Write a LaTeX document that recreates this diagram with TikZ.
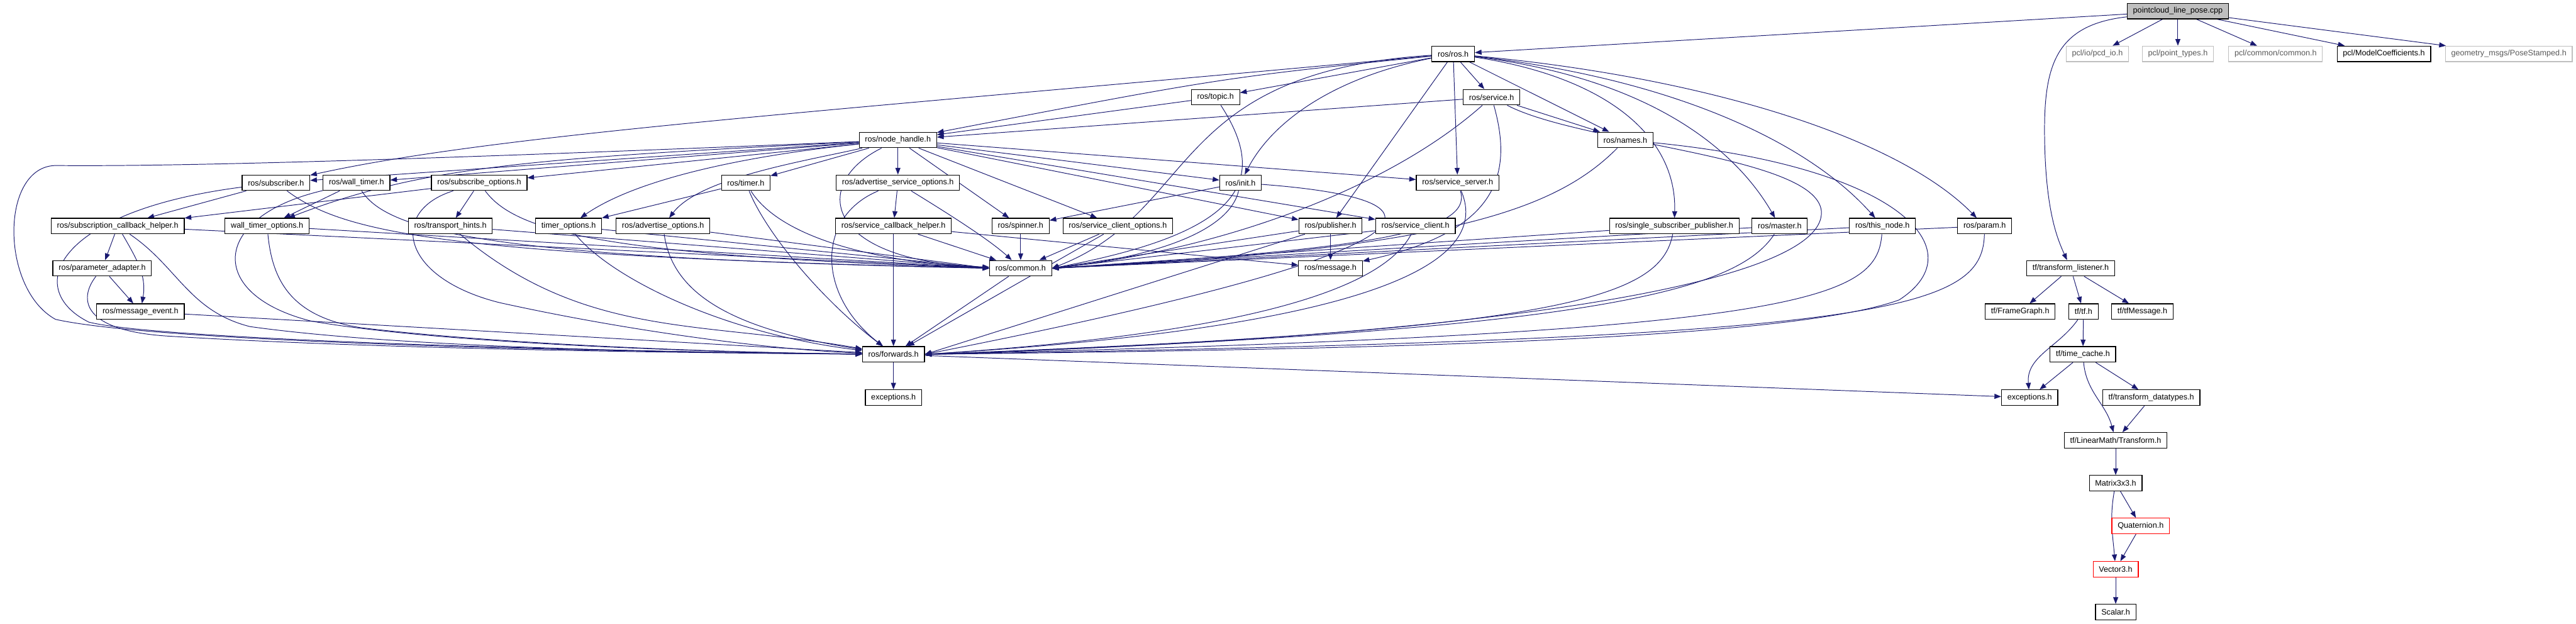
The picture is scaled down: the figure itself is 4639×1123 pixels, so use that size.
\documentclass[tikz,border=0pt]{standalone}
\usepackage{fontspec}
\setmainfont{Liberation Sans}
\usepackage{tikz}
\usetikzlibrary{arrows.meta}
\definecolor{edgeblue}{HTML}{191970}
\definecolor{rootgray}{HTML}{BFBFBF}
\pgfdeclarelayer{background}
\pgfsetlayers{background,main}

\begin{document}
\begin{tikzpicture}[x=1pt, y=-1pt,
    hdr/.style={rectangle, draw=black, fill=white, line width=1.3pt, inner xsep=10.5pt,
                inner ysep=0pt, minimum height=28pt, font=\fontsize{14.3}{16}\selectfont},
    roothdr/.style={hdr, fill=rootgray},
    exthdr/.style={hdr, draw=rootgray, text=black!65},
    cuthdr/.style={hdr, draw=red},
    dep/.style={->, >={Triangle[length=12pt,width=9pt]}, line width=1.1pt, color=edgeblue}
]
\useasboundingbox (0,0) rectangle (4639,1123);

% Source file and external headers
\node[roothdr] (root) at (3922,20) {pointcloud\_line\_pose.cpp};
\node[exthdr] (pcdio) at (3777,97) {pcl/io/pcd\_io.h};
\node[exthdr] (pointtypes) at (3922,97) {pcl/point\_types.h};
\node[exthdr] (pclcommon) at (4098,97) {pcl/common/common.h};
\node[hdr] (modelcoef) at (4293,97) {pcl/ModelCoefficients.h};
\node[exthdr] (posestamped) at (4518,97) {geometry\_msgs/PoseStamped.h};

% roscpp headers
\node[hdr] (ros) at (2617,97) {ros/ros.h};
\node[hdr] (topic) at (2189,175) {ros/topic.h};
\node[hdr] (service) at (2686,175) {ros/service.h};
\node[hdr] (nh) at (1617,252) {ros/node\_handle.h};
\node[hdr] (names) at (2927,252) {ros/names.h};
\node[hdr] (subscriber) at (497,329) {ros/subscriber.h};
\node[hdr] (walltimer) at (642,329) {ros/wall\_timer.h};
\node[hdr] (subopts) at (863,329) {ros/subscribe\_options.h};
\node[hdr] (timer) at (1343,329) {ros/timer.h};
\node[hdr] (advsrvopts) at (1617,329) {ros/advertise\_service\_options.h};
\node[hdr] (init) at (2234,329) {ros/init.h};
\node[hdr] (srvserver) at (2625,329) {ros/service\_server.h};
\node[hdr] (subcbhelper) at (212,407) {ros/subscription\_callback\_helper.h};
\node[hdr] (walltimeropts) at (481,407) {wall\_timer\_options.h};
\node[hdr] (transport) at (811,407) {ros/transport\_hints.h};
\node[hdr] (timeropts) at (1024,407) {timer\_options.h};
\node[hdr] (advopts) at (1194,407) {ros/advertise\_options.h};
\node[hdr] (srvcbhelper) at (1609,407) {ros/service\_callback\_helper.h};
\node[hdr] (spinner) at (1838,407) {ros/spinner.h};
\node[hdr] (srvclientopts) at (2013,407) {ros/service\_client\_options.h};
\node[hdr] (publisher) at (2396,407) {ros/publisher.h};
\node[hdr] (srvclient) at (2549,407) {ros/service\_client.h};
\node[hdr] (singlesub) at (3015,407) {ros/single\_subscriber\_publisher.h};
\node[hdr] (master) at (3205,407) {ros/master.h};
\node[hdr] (thisnode) at (3390,407) {ros/this\_node.h};
\node[hdr] (param) at (3574,407) {ros/param.h};
\node[hdr] (paramadapter) at (184,483) {ros/parameter\_adapter.h};
\node[hdr] (common) at (1838,483) {ros/common.h};
\node[hdr] (message) at (2396,483) {ros/message.h};
\node[hdr] (msgevent) at (253,561) {ros/message\_event.h};
\node[hdr] (forwards) at (1609,638) {ros/forwards.h};
\node[hdr] (exc) at (1609,716) {exceptions.h};

% tf headers
\node[hdr] (tflistener) at (3729,483) {tf/transform\_listener.h};
\node[hdr] (framegraph) at (3638,561) {tf/FrameGraph.h};
\node[hdr] (tftf) at (3752,561) {tf/tf.h};
\node[hdr] (tfmessage) at (3858,561) {tf/tfMessage.h};
\node[hdr] (timecache) at (3751,638) {tf/time\_cache.h};
\node[hdr] (tfexc) at (3655,716) {exceptions.h};
\node[hdr] (datatypes) at (3874,716) {tf/transform\_datatypes.h};
\node[hdr] (transform) at (3810,793) {tf/LinearMath/Transform.h};
\node[hdr] (matrix) at (3810,870) {Matrix3x3.h};
\node[cuthdr] (quaternion) at (3855,947) {Quaternion.h};
\node[cuthdr] (vector) at (3810,1025) {Vector3.h};
\node[hdr] (scalar) at (3810,1102) {Scalar.h};

\begin{pgfonlayer}{background}
% Source file includes
\draw[dep] (root) -- (ros);
\draw[dep] (root) -- (pcdio);
\draw[dep] (root) -- (pointtypes);
\draw[dep] (root) -- (pclcommon);
\draw[dep] (root) -- (modelcoef);
\draw[dep] (root) -- (posestamped);
\draw[dep] (root) .. controls (3700,45) and (3680,120) .. (3682,250)
    .. controls (3684,380) and (3705,430) .. (tflistener);

% ros.h
\draw[dep] (ros) .. controls (2200,140) .. (nh);
\draw[dep] (ros) -- (topic);
\draw[dep] (ros) .. controls (1500,200) and (900,240) .. (subscriber);
\draw[dep] (ros) -- (service);
\draw[dep] (ros) -- (names);
\draw[dep] (ros) -- (publisher);
\draw[dep] (ros) -- (srvserver);
\draw[dep] (ros) .. controls (2400,140) and (2290,220) .. (init);
\draw[dep] (ros) .. controls (2100,130) and (2160,380) .. (common.east);
\draw[dep] (ros) .. controls (2900,140) and (3020,250) .. (singlesub);
\draw[dep] (ros) .. controls (2960,140) and (3120,260) .. (master);
\draw[dep] (ros) .. controls (3000,140) and (3250,250) .. (thisnode);
\draw[dep] (ros) .. controls (3080,140) and (3420,250) .. (param);

% topic.h, service.h, names.h
\draw[dep] (topic) -- (nh);
\draw[dep] (topic) .. controls (2290,330) and (2230,420) .. (common.east);
\draw[dep] (service) -- (nh);
\draw[dep] (service) -- (names);
\draw[dep] (service) .. controls (2500,340) and (2200,450) .. (common.east);
\draw[dep] (service) .. controls (2730,330) and (2680,420) .. (message);
\draw[dep] (service) .. controls (2850,260) and (3270,280) .. (3280,380)
    .. controls (3290,520) and (2600,610) .. (forwards.east);
\draw[dep] (names) .. controls (2800,380) and (2600,450) .. (common.east);
\draw[dep] (names) .. controls (3420,300) and (3560,450) .. (3420,540)
    .. controls (3200,620) and (2300,630) .. (forwards.east);

% node_handle.h
\draw[dep] (nh) -- (subscriber);
\draw[dep] (nh) -- (walltimer);
\draw[dep] (nh) -- (subopts);
\draw[dep] (nh) .. controls (950,285) and (760,300) .. (walltimeropts);
\draw[dep] (nh) .. controls (700,290) and (300,300) .. (100,298)
    .. controls (0,300) and (0,520) .. (100,575) .. controls (300,620) and (1200,635) .. (forwards);
\draw[dep] (nh) -- (timer);
\draw[dep] (nh) -- (advsrvopts);
\draw[dep] (nh) .. controls (1350,280) and (1150,320) .. (timeropts);
\draw[dep] (nh) .. controls (1450,290) and (1260,320) .. (advopts);
\draw[dep] (nh) .. controls (1460,330) and (1480,470) .. (common);
\draw[dep] (nh) -- (spinner);
\draw[dep] (nh) -- (srvclientopts);
\draw[dep] (nh) -- (init);
\draw[dep] (nh) -- (publisher);
\draw[dep] (nh) -- (srvserver);
\draw[dep] (nh) -- (srvclient);

% subscriber side
\draw[dep] (subscriber) -- (subcbhelper);
\draw[dep] (subscriber) .. controls (620,420) and (800,460) .. (common.west);
\draw[dep] (subscriber) .. controls (100,380) and (40,520) .. (160,580)
    .. controls (300,615) and (1200,635) .. (forwards);
\draw[dep] (walltimer) -- (walltimeropts);
\draw[dep] (walltimer) .. controls (700,420) and (900,465) .. (common.west);
\draw[dep] (walltimer) .. controls (380,390) and (370,530) .. (560,578)
    .. controls (800,620) and (1300,635) .. (forwards);
\draw[dep] (subopts) -- (transport);
\draw[dep] (subopts) -- (subcbhelper);
\draw[dep] (subopts) .. controls (930,420) and (1100,460) .. (common.west);
\draw[dep] (subopts) .. controls (700,380) and (720,500) .. (900,545)
    .. controls (1150,600) and (1400,630) .. (forwards);
\draw[dep] (subcbhelper) -- (paramadapter);
\draw[dep] (subcbhelper) to[out=-60,in=80] (msgevent);
\draw[dep] (subcbhelper) -- (common.west);
\draw[dep] (subcbhelper) .. controls (320,480) and (340,560) .. (450,588)
    .. controls (750,630) and (1300,635) .. (forwards);
\draw[dep] (paramadapter) -- (msgevent);
\draw[dep] (paramadapter) .. controls (140,540) and (150,595) .. (300,605)
    .. controls (700,630) and (1300,636) .. (forwards);
\draw[dep] (msgevent) -- (forwards);
\draw[dep] (walltimeropts) -- (common.west);
\draw[dep] (walltimeropts) .. controls (490,500) and (520,570) .. (650,590)
    .. controls (900,620) and (1300,635) .. (forwards);
\draw[dep] (transport) -- (common.west);
\draw[dep] (transport) to[out=-40,in=170] (forwards);

% timers and advertise options
\draw[dep] (timer) -- (timeropts);
\draw[dep] (timer) .. controls (1400,420) and (1550,470) .. (common.west);
\draw[dep] (timer) .. controls (1380,420) and (1480,540) .. (forwards);
\draw[dep] (timeropts) -- (common.west);
\draw[dep] (timeropts) .. controls (1100,500) and (1300,600) .. (forwards);
\draw[dep] (advopts) -- (common.west);
\draw[dep] (advopts) .. controls (1210,520) and (1300,590) .. (forwards);
\draw[dep] (advsrvopts) -- (srvcbhelper);
\draw[dep] (advsrvopts) .. controls (1700,380) and (1780,430) .. (common);
\draw[dep] (advsrvopts) .. controls (1470,390) and (1470,530) .. (forwards);
\draw[dep] (srvcbhelper) -- (forwards);
\draw[dep] (srvcbhelper) -- (common);
\draw[dep] (srvcbhelper) -- (message);
\draw[dep] (spinner) -- (common);
\draw[dep] (srvclientopts) -- (common);
\draw[dep] (srvclientopts) -- (forwards);
\draw[dep] (common) -- (forwards);

% right-hand roscpp headers
\draw[dep] (init) -- (spinner);
\draw[dep] (init) .. controls (2215,410) and (2100,460) .. (common.east);
\draw[dep] (init) .. controls (2640,360) and (2620,450) .. (forwards.east);
\draw[dep] (publisher) -- (message);
\draw[dep] (publisher) -- (common.east);
\draw[dep] (publisher) -- (forwards.east);
\draw[dep] (srvclient) -- (common.east);
\draw[dep] (srvclient) .. controls (2490,520) and (2250,600) .. (forwards.east);
\draw[dep] (srvserver) .. controls (2655,420) and (2450,450) .. (common.east);
\draw[dep] (srvserver) .. controls (2690,480) and (2450,590) .. (forwards.east);
\draw[dep] (singlesub) -- (common.east);
\draw[dep] (singlesub) .. controls (2990,540) and (2800,595) .. (forwards.east);
\draw[dep] (master) -- (common.east);
\draw[dep] (master) .. controls (3130,520) and (2900,595) .. (forwards.east);
\draw[dep] (thisnode) -- (common.east);
\draw[dep] (thisnode) .. controls (3380,540) and (3250,600) .. (forwards.east);
\draw[dep] (param) -- (common.east);
\draw[dep] (param) .. controls (3570,560) and (3400,610) .. (forwards.east);
\draw[dep] (forwards) -- (exc);
\draw[dep] (forwards) -- (tfexc);

% tf chain
\draw[dep] (tflistener) -- (framegraph);
\draw[dep] (tflistener) -- (tftf);
\draw[dep] (tflistener) -- (tfmessage);
\draw[dep] (tftf) -- (timecache);
\draw[dep] (tftf) to[out=235,in=95] (tfexc);
\draw[dep] (timecache) -- (tfexc);
\draw[dep] (timecache) -- (datatypes);
\draw[dep] (timecache) to[out=-85,in=105] (transform);
\draw[dep] (datatypes) -- (transform);
\draw[dep] (transform) -- (matrix);
\draw[dep] (matrix) -- (quaternion);
\draw[dep] (matrix) to[out=-100,in=95] (vector);
\draw[dep] (quaternion) -- (vector);
\draw[dep] (vector) -- (scalar);
\end{pgfonlayer}

\end{tikzpicture}
\end{document}
